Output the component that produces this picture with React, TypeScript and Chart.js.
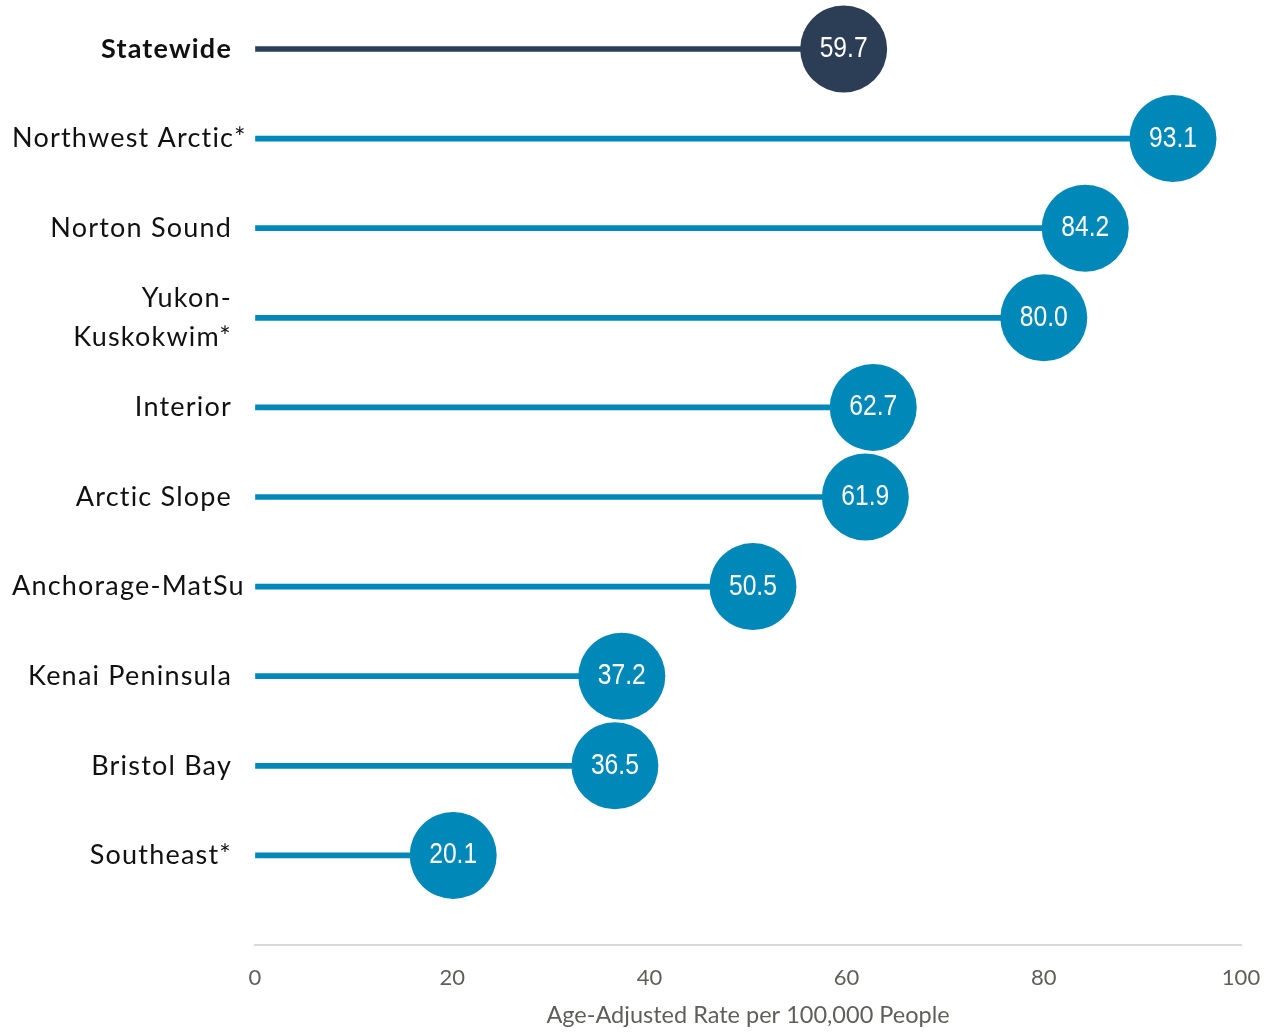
import React, { useEffect, useRef } from "react";
import { Chart, registerables } from "chart.js";

Chart.register(...registerables);

const regions: (string | string[])[] = [
  "Statewide",
  "Northwest Arctic*",
  "Norton Sound",
  ["Yukon-", "Kuskokwim*"],
  "Interior",
  "Arctic Slope",
  "Anchorage-MatSu",
  "Kenai Peninsula",
  "Bristol Bay",
  "Southeast*",
  "",
];
const rates = [59.7, 93.1, 84.2, 80.0, 62.7, 61.9, 50.5, 37.2, 36.5, 20.1];
const xTicks = [0, 20, 40, 60, 80, 100];
const xTitle = "Age-Adjusted Rate per 100,000 People";

const NAVY = "#2c3e56";
const BLUE = "#0088b8";
const colors = rates.map((_, i) => (i === 0 ? NAVY : BLUE));

const zeroPad = () => ({ left: 0, top: 0, right: 0, bottom: 0 });

const labelPlugin = {
  id: "labelPlugin",
  beforeLayout(chart: any) {
    Object.values(chart.scales).forEach((s: any) => {
      s.getPadding = zeroPad;
    });
  },
  afterDraw(chart: any) {
    const ctx = chart.ctx;
    const yScale = chart.scales.y;
    const rightX = yScale.right - 23;
    const minLeft = 12;
    const lineH = 39;
    ctx.save();
    ctx.fillStyle = "#111111";
    ctx.textBaseline = "middle";
    ctx.letterSpacing = "1.2px";
    regions.forEach((lab, i) => {
      if (!lab || (Array.isArray(lab) && lab.length === 0)) return;
      const lines = Array.isArray(lab) ? lab : [lab];
      ctx.font = `${i === 0 ? "bold " : ""}27px Lato`;
      const yc = yScale.getPixelForValue(i);
      lines.forEach((line, j) => {
        const w = ctx.measureText(line).width;
        const y = yc + (j - (lines.length - 1) / 2) * lineH;
        if (rightX - w < minLeft) {
          ctx.textAlign = "left";
          ctx.fillText(line, minLeft, y);
        } else {
          ctx.textAlign = "right";
          ctx.fillText(line, rightX, y);
        }
      });
    });
    ctx.restore();
  },
  afterDatasetsDraw(chart: any) {
    const meta = chart.getDatasetMeta(1);
    const ctx = chart.ctx;
    meta.data.forEach((el: any, i: number) => {
      ctx.save();
      ctx.fillStyle = "#ffffff";
      ctx.font = "29px 'Liberation Sans Narrow', sans-serif";
      ctx.textAlign = "center";
      ctx.textBaseline = "middle";
      ctx.translate(el.x, el.y);
      ctx.scale(0.85, 1);
      ctx.fillText(rates[i].toFixed(1), 0, 0);
      ctx.restore();
    });
  },
};

export default function App() {
  const ref = useRef<HTMLCanvasElement | null>(null);
  useEffect(() => {
    if (!ref.current) return;
    const chart = new Chart(ref.current, {
      type: "bar",
      data: {
        labels: regions,
        datasets: [
          {
            type: "bar",
            data: rates,
            backgroundColor: colors,
            barThickness: 5,
            borderWidth: 0,
            clip: false,
          } as any,
          {
            type: "scatter",
            data: rates.map((v, i) => ({ x: v, y: i })),
            pointRadius: 43.5,
            pointHoverRadius: 43.5,
            pointBackgroundColor: colors,
            pointBorderWidth: 0,
            borderWidth: 0,
            clip: false,
          } as any,
        ],
      },
      options: {
        indexAxis: "y",
        animation: false,
        responsive: false,
        layout: { padding: { top: 49, right: 30, left: 0, bottom: 0 } },
        plugins: {
          legend: { display: false },
          tooltip: { enabled: false },
        },
        scales: {
          x: {
            type: "linear",
            min: 0,
            max: 100,
            afterBuildTicks: (scale: any) => {
              scale.ticks = xTicks.map((v) => ({ value: v }));
            },
            afterFit: (scale: any) => {
              scale.height = 89;
              scale.paddingLeft = 0;
              scale.paddingRight = 0;
            },
            grid: { drawOnChartArea: false, drawTicks: false },
            border: { display: true, color: "#d9d9d9", width: 2 },
            ticks: {
              padding: 20,
              color: "#5f5f5a",
              font: { family: "Lato", size: 22 },
              maxRotation: 0,
            },
            title: {
              display: true,
              text: xTitle,
              color: "#5f5f5a",
              font: { family: "Lato", size: 23.5 },
              padding: { top: 0, bottom: 4 },
            },
          },
          y: {
            type: "category",
            offset: false,
            afterFit: (scale: any) => {
              scale.width = 255;
              scale.paddingTop = 0;
              scale.paddingBottom = 0;
            },
            grid: { display: false, drawTicks: false },
            border: { display: false },
            ticks: { display: false },
          },
        },
      },
      plugins: [labelPlugin],
    });
    // the big lollipop heads should not reserve extra layout padding
    const ctrl: any = chart.getDatasetMeta(1).controller;
    ctrl.getMaxOverflow = () => 0;
    chart.update();
    return () => chart.destroy();
  }, []);
  return (
    <div style={{ position: "fixed", top: 0, left: 0, width: 1271, height: 1034 }}>
      <canvas ref={ref} width={1271} height={1034} style={{ display: "block" }} />
    </div>
  );
}
